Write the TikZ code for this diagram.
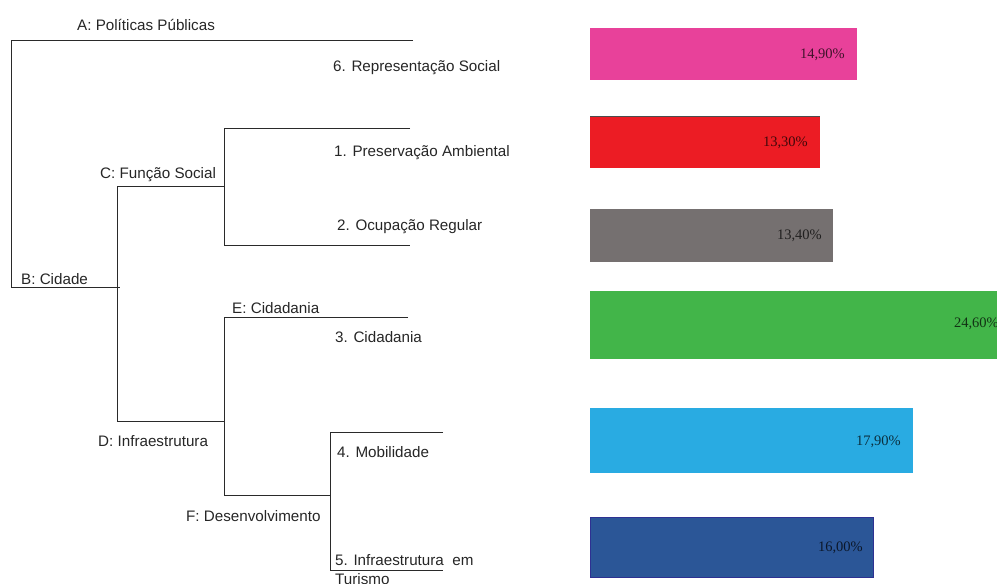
\documentclass[tikz,border=0pt]{standalone}
\usepackage{fontspec}
\setmainfont{Liberation Sans}
\newfontfamily\pctfont{Liberation Serif}
\definecolor{linec}{HTML}{2A2A2A}
\definecolor{barpink}{HTML}{E8419A}
\definecolor{barred}{HTML}{EC1C24}
\definecolor{bargray}{HTML}{757070}
\definecolor{bargreen}{HTML}{42B549}
\definecolor{barlblue}{HTML}{29ABE2}
\definecolor{bardblue}{HTML}{2B5697}
\definecolor{bardborder}{HTML}{2E3192}
\begin{document}
\begin{tikzpicture}[x=1pt,y=-1pt,
  lbl/.style={anchor=base west,inner sep=0pt,font=\fontsize{15.2}{17}\selectfont,text=black!85},
  pct/.style={anchor=east,inner sep=0pt,font=\pctfont\fontsize{14.5}{16}\selectfont,text=black,text opacity=0.72},
  branch/.style={draw=linec,line width=1pt}]
\useasboundingbox (0,0) rectangle (997,584);
% junction coordinates
\coordinate (rtop) at (11,40);
\coordinate (rbot) at (11,287);
\coordinate (aend) at (413,40);
\coordinate (bend) at (120,287);
\coordinate (ctop) at (117,186);
\coordinate (cbot) at (117,421);
\coordinate (cr) at (224,186);
\coordinate (dr) at (224,421);
\coordinate (c1) at (224,128);
\coordinate (c2) at (224,245);
\coordinate (e1) at (410,128);
\coordinate (e2) at (410,245);
\coordinate (dtop) at (224,317);
\coordinate (dbot) at (224,495);
\coordinate (eend) at (408,317);
\coordinate (fv) at (330,495);
\coordinate (f4) at (330,432);
\coordinate (f5) at (330,570);
\coordinate (end4) at (443,432);
\coordinate (end5) at (443,570);
% tree
\draw[branch] (aend) -- (rtop) -- (rbot) -- (bend);
\draw[branch] (cr) -- (ctop) -- (cbot) -- (dr);
\draw[branch] (e1) -- (c1) -- (c2) -- (e2);
\draw[branch] (eend) -- (dtop) -- (dbot) -- (fv);
\draw[branch] (end4) -- (f4) -- (f5) -- (end5);
% labels
\node[lbl] (la) at (77,30.7) {A: Políticas Públicas};
\node[lbl] (l6) at (333,71.7) {6. Representação Social};
\node[lbl] (l1) at (334,156) {1. Preservação Ambiental};
\node[lbl] (lc) at (100,178) {C: Função Social};
\node[lbl] (l2) at (337,230.7) {2. Ocupação Regular};
\node[lbl] (lb) at (21,284) {B: Cidade};
\node[lbl] (le) at (232,313.3) {E: Cidadania};
\node[lbl] (l3) at (335,342.3) {3. Cidadania};
\node[lbl] (ld) at (98,446) {D: Infraestrutura};
\node[lbl] (l4) at (337,457.3) {4. Mobilidade};
\node[lbl] (lf) at (186,521.3) {F: Desenvolvimento};
\node[lbl] (l5) at (335,565.7) {5. Infraestrutura\ \ em};
\node[lbl] (l5b) at (335,584.5) {Turismo};
% bars
\fill[barpink] (590,28) rectangle (857,80);
\fill[barred] (590,116) rectangle (820,168);
\draw[black!70,line width=0.8pt] (590,116.4) -- (820,116.4);
\fill[bargray] (590,209) rectangle (833,262);
\fill[bargreen] (590,291) rectangle (999,359);
\fill[barlblue] (590,408) rectangle (913,473);
\filldraw[fill=bardblue,draw=bardborder,line width=0.8pt] (590,517) rectangle (873,577);
% percentages
\node[pct] (p6) at (845,55) {14,90\%};
\node[pct] (p1) at (808,143) {13,30\%};
\node[pct] (p2) at (822,236) {13,40\%};
\node[pct] (p3) at (999,324) {24,60\%};
\node[pct] (p4) at (901,442) {17,90\%};
\node[pct] (p5) at (863,548) {16,00\%};
\end{tikzpicture}
\end{document}
